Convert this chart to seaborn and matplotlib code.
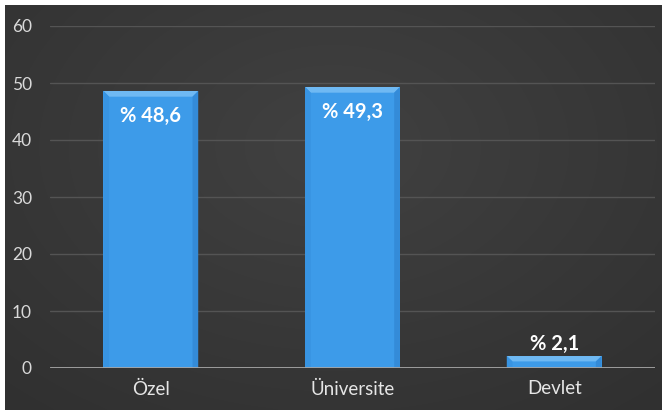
import numpy as np
import pandas as pd
import matplotlib
matplotlib.use("Agg")
import matplotlib.pyplot as plt
from matplotlib.patches import Polygon
import seaborn as sns

categories = ["Özel", "Üniversite", "Devlet"]
values = [48.6, 49.3, 2.1]
labels = ["% 48,6", "% 49,3", "% 2,1"]
yticks = [0, 10, 20, 30, 40, 50, 60]

sns.set_theme(style="dark")
plt.rcParams["font.family"] = ["Lato", "DejaVu Sans"]

df = pd.DataFrame({"kategori": categories, "oran": values})

W, H = 667, 416
fig = plt.figure(figsize=(W / 100, H / 100), dpi=100)
fig.patch.set_facecolor("white")

# dark panel with soft radial shading
bg = fig.add_axes([5 / W, 6 / H, (W - 10) / W, (H - 11) / H])
yy, xx = np.mgrid[0:1:200j, 0:1:320j]
r = np.sqrt(((xx - 0.5) / 0.8) ** 2 + ((yy - 0.35) / 0.9) ** 2)
shade = np.clip(0.255 - 0.07 * r, 0.15, 0.26)
bg.imshow(np.dstack([shade] * 3), aspect="auto", extent=[0, 1, 0, 1],
          interpolation="bicubic")
bg.set_axis_off()

ax = fig.add_axes([50 / W, (H - 368) / H, (655 - 50) / W, (368 - 26) / H])
ax.patch.set_alpha(0)
sns.barplot(data=df, x="kategori", y="oran", color="#3d9be9", width=0.47,
            saturation=1, linewidth=0, edgecolor="none", ax=ax, zorder=3)

ax.set_ylim(0, 60)
ax.set_xlim(-0.5, 2.5)
ax.set_yticks(yticks)
ax.set_yticklabels([str(t) for t in yticks])
ax.yaxis.grid(True, color="#545454", linewidth=1)
ax.xaxis.grid(False)
ax.axhline(0, color="#a6a6a6", linewidth=2, zorder=4)
for s in ax.spines.values():
    s.set_visible(False)
ax.set_xlabel("")
ax.set_ylabel("")
ax.tick_params(axis="y", colors="#d9d9d9", labelsize=12.5, length=0, pad=13)
ax.tick_params(axis="x", colors="#e6e6e6", labelsize=13.5, length=0, pad=9)

# bevelled top edge on each bar
bev = 0.06
for p in ax.patches:
    x0, w, h = p.get_x(), p.get_width(), p.get_height()
    dy = min(1.0, h * 0.45)
    ax.add_patch(Polygon([(x0, h), (x0 + w, h), (x0 + w - bev * w, h - dy),
                          (x0 + bev * w, h - dy)], closed=True,
                         facecolor="#6fb9f3", edgecolor="none", zorder=3.5))
    ax.add_patch(Polygon([(x0, h), (x0 + bev * w, h - dy), (x0 + bev * w, 0),
                          (x0, 0)], closed=True,
                         facecolor="#3894e2", edgecolor="none", zorder=3.5))
    ax.add_patch(Polygon([(x0 + w, h), (x0 + w - bev * w, h - dy),
                          (x0 + w - bev * w, 0), (x0 + w, 0)], closed=True,
                         facecolor="#348bd8", edgecolor="none", zorder=3.5))

for i, (v, lab) in enumerate(zip(values, labels)):
    if v > 10:
        ax.text(i, v - 4.4, lab, ha="center", va="center", color="white",
                fontsize=14.5, fontweight="bold", zorder=5)
    else:
        ax.text(i, v + 2.1, lab, ha="center", va="center", color="white",
                fontsize=14.5, fontweight="bold", zorder=5)

fig.savefig("out.png", dpi=100, facecolor="white")
